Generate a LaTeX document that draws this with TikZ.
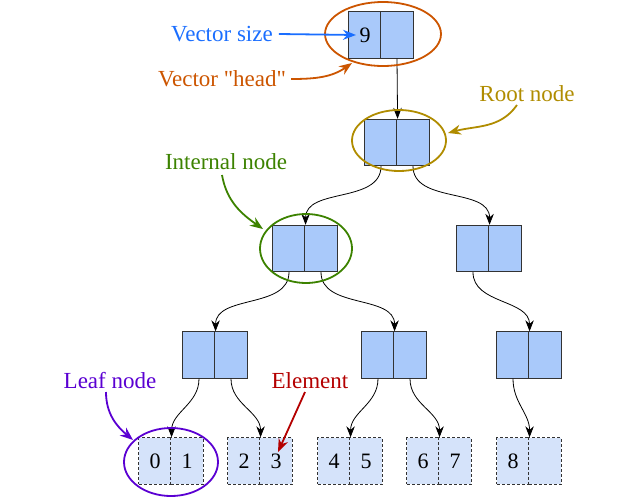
\documentclass[tikz,border=0pt]{standalone}
\usepackage{fontspec}
\setmainfont{Liberation Serif}[Ligatures=TeXOff]
\usetikzlibrary{arrows.meta}
\definecolor{cellfill}{HTML}{A9C9FA}
\definecolor{leaffill}{HTML}{D5E3FA}
\definecolor{cellline}{HTML}{333333}
\definecolor{vscol}{HTML}{1A6EFF}
\definecolor{vhcol}{HTML}{CC5500}
\definecolor{rncol}{HTML}{B08C00}
\definecolor{incol}{HTML}{3C8200}
\definecolor{lncol}{HTML}{5A00D2}
\definecolor{elcol}{HTML}{B40000}
\begin{document}
\begin{tikzpicture}[x=1pt,y=1pt,
  cell/.style={draw=cellline, line width=0.9pt, fill=cellfill, minimum width=32.25pt, minimum height=46.5pt, inner sep=0pt, font=\fontsize{22}{24}\selectfont},
  leaf/.style={cell, fill=leaffill, dash pattern=on 3pt off 2pt},
  conn/.style={-{Stealth[length=11pt,width=8.5pt]}, line width=0.8pt},
  lbl/.style={inner sep=0pt, font=\fontsize{23}{26}\selectfont},
  ann/.style={line width=1.8pt, -{Stealth[length=13pt,width=10pt]}},
  ring/.style={line width=1.8pt}]
\useasboundingbox (0,0) rectangle (640,-499);

% head
\node[cell] (headL) at (365,-35) {9};
\node[cell] (headR) at (397,-35) {};
% root
\node[cell] (rootL) at (381,-142.5) {};
\node[cell] (rootR) at (413,-142.5) {};
% level 2
\node[cell] (aL) at (289,-248.5) {};
\node[cell] (aR) at (321,-248.5) {};
\node[cell] (bL) at (473,-248.5) {};
\node[cell] (bR) at (505,-248.5) {};
% level 3
\node[cell] (cL) at (199,-355) {};
\node[cell] (cR) at (231,-355) {};
\node[cell] (dL) at (378,-355) {};
\node[cell] (dR) at (410,-355) {};
\node[cell] (eL) at (513,-355) {};
\node[cell] (eR) at (545,-355) {};
% leaves
\node[leaf] (l1L) at (155,-461) {0};
\node[leaf] (l1R) at (187,-461) {1};
\node[leaf] (l2L) at (244,-461) {2};
\node[leaf] (l2R) at (276,-461) {3};
\node[leaf] (l3L) at (334,-461) {4};
\node[leaf] (l3R) at (366,-461) {5};
\node[leaf] (l4L) at (423,-461) {6};
\node[leaf] (l4R) at (455,-461) {7};
\node[leaf] (l5L) at (513,-461) {8};
\node[leaf] (l5R) at (545,-461) {};

% connectors
\draw[conn] (headR.south) -- (rootL.north east);
\draw[conn] (rootL.south) to[out=-90,in=90] (aL.north east);
\draw[conn] (rootR.south) to[out=-90,in=90] (bL.north east);
\draw[conn] (aL.south) to[out=-90,in=90] (cL.north east);
\draw[conn] (aR.south) to[out=-90,in=90] (dL.north east);
\draw[conn] (bL.south) to[out=-90,in=90] (eL.north east);
\draw[conn] (cL.south) to[out=-90,in=90] (l1L.north east);
\draw[conn] (cR.south) to[out=-90,in=90] (l2L.north east);
\draw[conn] (dL.south) to[out=-90,in=90] (l3L.north east);
\draw[conn] (dR.south) to[out=-90,in=90] (l4L.north east);
\draw[conn] (eL.south) to[out=-90,in=90] (l5L.north east);

% rings
\draw[ring, vhcol] (383,-34) ellipse [x radius=58, y radius=32];
\draw[ring, rncol] (399,-140.5) ellipse [x radius=47, y radius=30.5];
\draw[ring, incol] (306,-248.5) ellipse [x radius=46, y radius=34.5];
\draw[ring, lncol] (171,-462) ellipse [x radius=47, y radius=34];

% labels
\node[lbl, text=vscol] (vs) at (222,-34) {Vector size};
\node[lbl, text=vhcol] (vh) at (222,-79) {Vector "head"};
\node[lbl, text=rncol] (rn) at (527,-94) {Root node};
\node[lbl, text=incol] (inl) at (226,-162) {Internal node};
\node[lbl, text=lncol] (ln) at (110,-381) {Leaf node};
\node[lbl, text=elcol] (el) at (310,-381) {Element};

\coordinate (vsT) at (356,-35);
\coordinate (vhT) at (352,-63);
\coordinate (rnS) at (517,-105);
\coordinate (rnT) at (448,-133);
\coordinate (inS) at (222,-175);
\coordinate (inT) at (263,-229);
\coordinate (lnS) at (106,-392);
\coordinate (lnT) at (133,-440);
\coordinate (elS) at (305,-392);
\coordinate (elT) at (278,-452);

\draw[ann, vscol] ([xshift=6pt]vs.east) -- (vsT);
\draw[ann, vhcol] ([xshift=5pt]vh.east) to[out=0,in=-145] (vhT);
\draw[ann, rncol] (rnS) to[out=-125,in=15] (rnT);
\draw[ann, incol] (inS) to[out=-80,in=145] (inT);
\draw[ann, lncol] (lnS) to[out=-90,in=140] (lnT);
\draw[ann, elcol] (elS) -- (elT);
\end{tikzpicture}
\end{document}
